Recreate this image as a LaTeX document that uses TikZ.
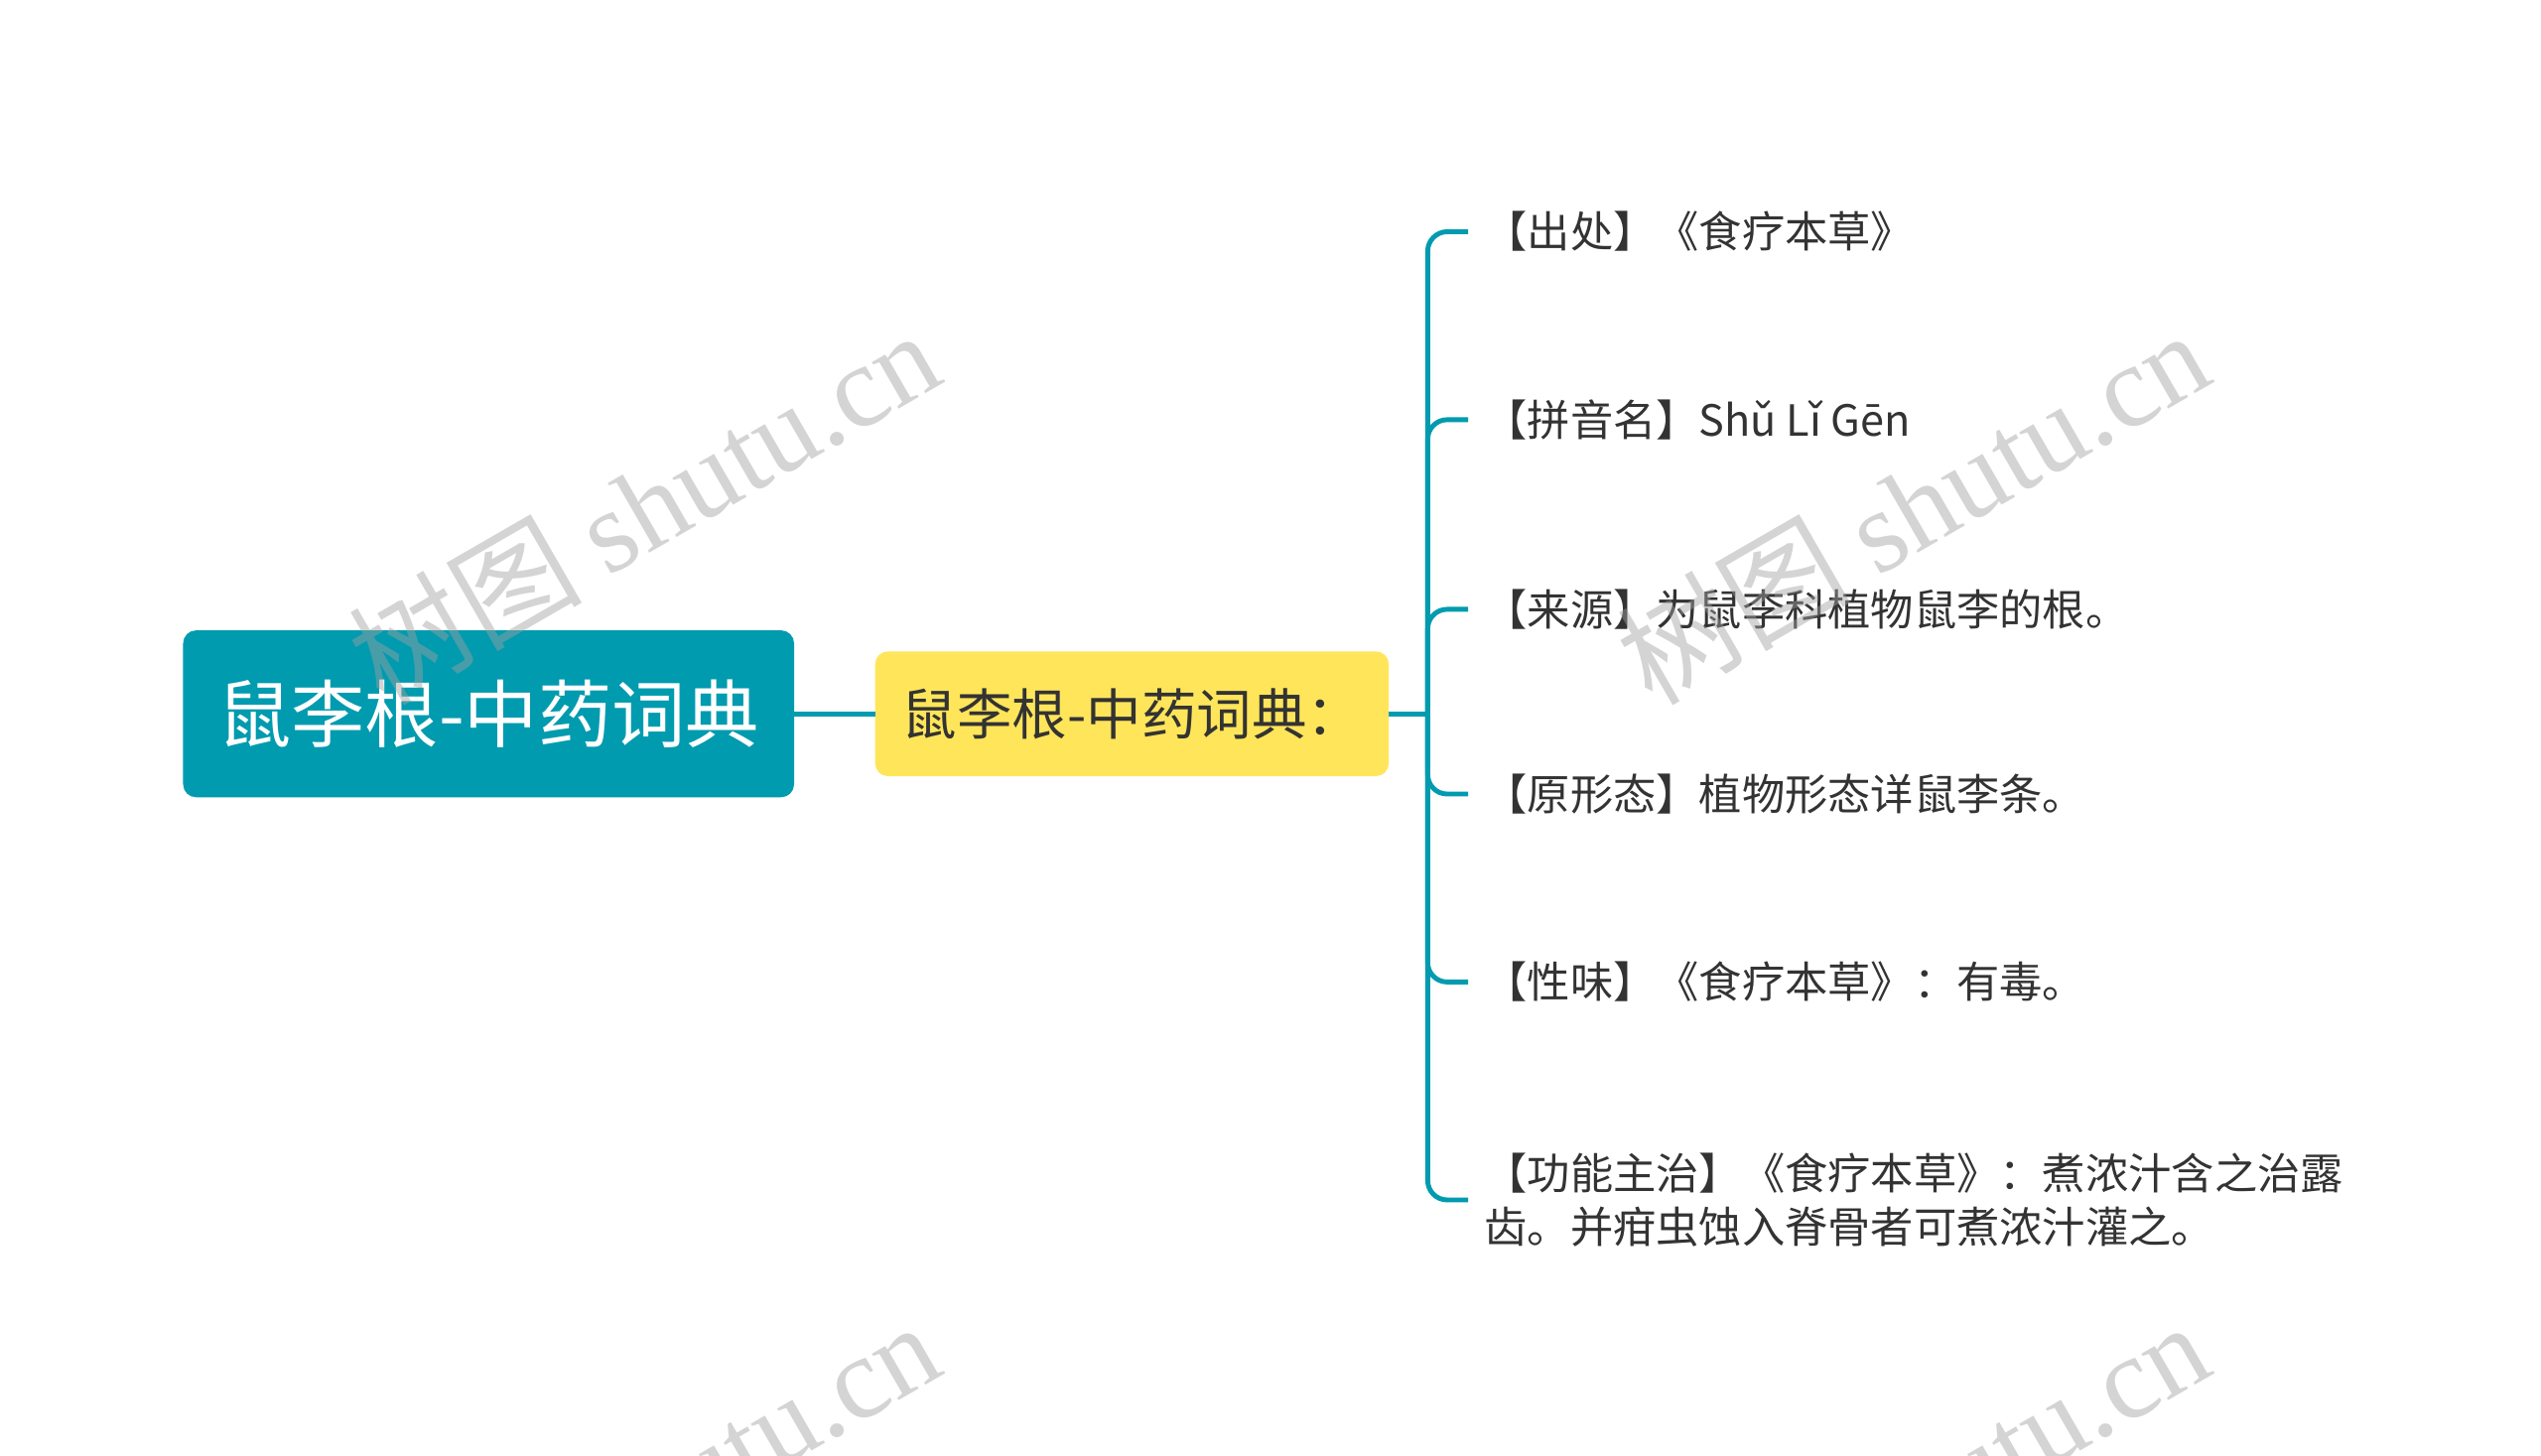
\documentclass[tikz,border=0pt]{standalone}
\usepackage{fontspec}
\setmainfont{Noto Sans CJK SC}
\newfontfamily\wmserif{Liberation Serif}
\usepackage{tikz}
\usetikzlibrary{positioning}

\definecolor{mapteal}{RGB}{0,155,175}
\definecolor{mapyellow}{RGB}{255,229,90}
\definecolor{maptext}{RGB}{51,51,51}
\definecolor{mapmark}{RGB}{160,160,160}

\begin{document}
\begin{tikzpicture}[x=1pt, y=-1pt, node distance=50pt, inner sep=0pt,
    outer sep=0pt, align=center,
    link/.style={draw=mapteal, line width=3pt, rounded corners=12pt}]

  \tikzstyle{root}=[fill=mapteal, rounded corners=8pt, minimum width=377pt,
    minimum height=103pt, text=white, font=\fontsize{45.5}{52}\selectfont]
  \tikzstyle{topic}=[fill=mapyellow, rounded corners=8pt, minimum width=317pt,
    minimum height=77pt, text=maptext, font=\fontsize{34}{40}\selectfont]
  \tikzstyle{leaf}=[anchor=west, align=left, inner xsep=10pt, inner ysep=2pt,
    text=maptext, font=\fontsize{26.5}{33}\selectfont]
  \tikzstyle{watermark}=[rotate=30, text=mapmark, opacity=0.45,
    font=\fontsize{72}{72}\selectfont]

  \fill[white] (0,0) rectangle (1568,898);
  \clip (0,0) rectangle (1568,898);

  \node[root] (herb) at (301.5,440.5) {鼠李根-中药词典};
  \node[topic] (entry) [right=of herb] {鼠李根-中药词典：};
  \coordinate (fork) at (881,440.5);

  \node[leaf] (source)  at (906,143) {【出处】《食疗本草》};
  \node[leaf] (pinyin)  at (906,259) {【拼音名】Shǔ Lǐ Gēn};
  \node[leaf] (origin)  at (906,376) {【来源】为鼠李科植物鼠李的根。};
  \node[leaf] (shape)   at (906,490) {【原形态】植物形态详鼠李条。};
  \node[leaf] (taste)   at (906,606) {【性味】《食疗本草》：有毒。};
  \node[leaf] (usage)   at (906,740.5)
    {【功能主治】《食疗本草》：煮浓汁含之治露\\齿。并疳虫蚀入脊骨者可煮浓汁灌之。};

  \draw[link] (herb) -- (entry);
  \draw[link] (entry) -- (fork);
  \foreach \leafname in {source,pinyin,origin,shape,taste,usage}
    \draw[link] (fork) |- (\leafname.west);

  % site marks
  \node[watermark] (mark1) at (397,312) {树图 {\wmserif shutu.cn}};
  \node[watermark] (mark2) at (1180,312) {树图 {\wmserif shutu.cn}};
  \node[watermark] (mark3) at (397,924) {树图 {\wmserif shutu.cn}};
  \node[watermark] (mark4) at (1180,924) {树图 {\wmserif shutu.cn}};
\end{tikzpicture}
\end{document}
